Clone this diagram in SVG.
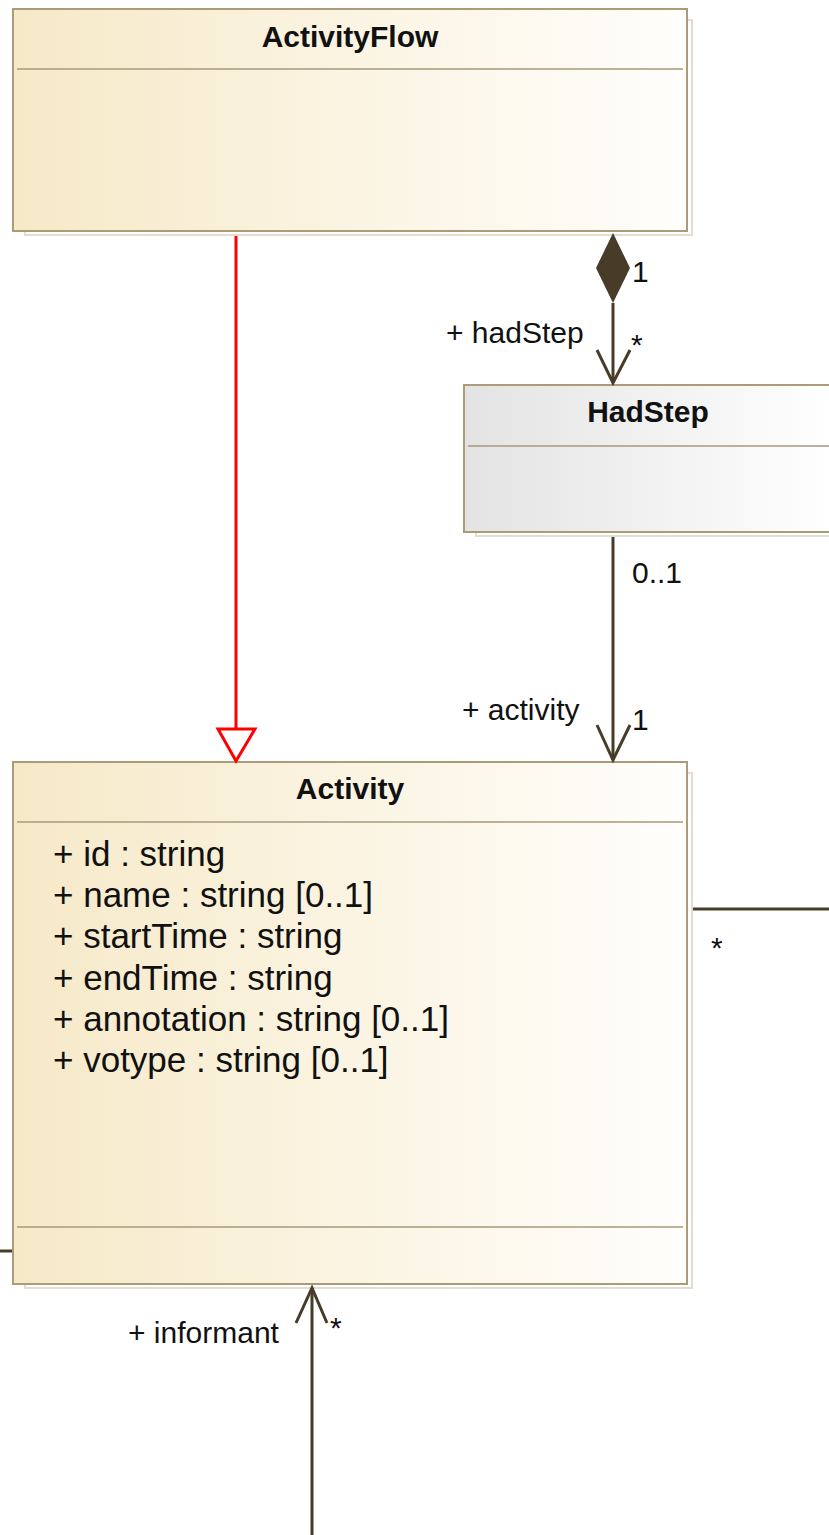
<svg xmlns="http://www.w3.org/2000/svg" width="829" height="1535" viewBox="0 0 829 1535">
<style>
.box{stroke:#ab9c78;stroke-width:2}
.shadow{fill:#ffffff;stroke:#e2ddd0;stroke-width:2}
.div{stroke:#a8997a;stroke-width:1.5}
.title{font-family:"Liberation Sans",Arial,sans-serif;font-size:30px;font-weight:bold;fill:#111;text-anchor:middle}
.attr{font-family:"Liberation Sans",Arial,sans-serif;font-size:35px;fill:#111}
.lbl{font-family:"Liberation Sans",Arial,sans-serif;font-size:30px;fill:#111}
.conn{stroke:#473c28;stroke-width:3;fill:none}
</style>
<defs>
<linearGradient id="cream" x1="0" y1="0" x2="1" y2="0">
<stop offset="0" stop-color="#f6e9c8"/>
<stop offset="0.5" stop-color="#fbf4e2"/>
<stop offset="1" stop-color="#fffefc"/>
</linearGradient>
<linearGradient id="gray" x1="0" y1="0" x2="1" y2="0">
<stop offset="0" stop-color="#e3e3e3"/>
<stop offset="1" stop-color="#ffffff"/>
</linearGradient>
</defs>

<g id="ActivityFlow">
<rect class="shadow" x="25" y="20" width="667" height="215"/>
<rect class="box" x="13" y="9" width="674" height="222" fill="url(#cream)"/>
<line class="div" x1="17" y1="69" x2="683" y2="69"/>
<text class="title" x="350" y="47">ActivityFlow</text>
</g>

<g id="HadStep">
<rect class="shadow" x="476" y="396" width="361" height="140"/>
<rect class="box" x="464" y="385" width="368" height="147" fill="url(#gray)"/>
<line class="div" x1="468" y1="446" x2="832" y2="446"/>
<text class="title" x="648" y="422">HadStep</text>
</g>

<g id="Activity">
<rect class="shadow" x="25" y="773" width="667" height="515"/>
<rect class="box" x="13" y="762" width="674" height="522" fill="url(#cream)"/>
<line class="div" x1="17" y1="822" x2="683" y2="822"/>
<line class="div" x1="17" y1="1227" x2="683" y2="1227"/>
<text class="title" x="350" y="799">Activity</text>
<text class="attr" x="53" y="866">+ id : string</text>
<text class="attr" x="53" y="907">+ name : string [0..1]</text>
<text class="attr" x="53" y="948">+ startTime : string</text>
<text class="attr" x="53" y="990">+ endTime : string</text>
<text class="attr" x="53" y="1031">+ annotation : string [0..1]</text>
<text class="attr" x="53" y="1072">+ votype : string [0..1]</text>
</g>

<g id="connectors">
<line x1="236" y1="236" x2="236" y2="729" stroke="#ff0000" stroke-width="3"/>
<polygon points="218,729 255,729 236,761" fill="#ffffff" stroke="#ff0000" stroke-width="3"/>

<polygon points="613,233 630,268 613,303 596,268" fill="#473c28"/>
<line class="conn" x1="613" y1="303" x2="613" y2="383"/>
<polyline class="conn" points="597,350 613,383 630,350"/>
<text class="lbl" x="632" y="282">1</text>
<text class="lbl" x="446" y="343">+ hadStep</text>
<text class="lbl" x="631" y="355">*</text>

<line class="conn" x1="613" y1="537" x2="613" y2="760"/>
<polyline class="conn" points="597,725 613,760 630,725"/>
<text class="lbl" x="632" y="583">0..1</text>
<text class="lbl" x="462" y="720">+ activity</text>
<text class="lbl" x="632" y="730">1</text>

<line class="conn" x1="693" y1="909" x2="829" y2="909"/>
<text class="lbl" x="711" y="958">*</text>

<line class="conn" x1="0" y1="1251" x2="12" y2="1251"/>

<line class="conn" x1="312" y1="1288" x2="312" y2="1535"/>
<polyline class="conn" points="296,1323 312,1288 327,1323"/>
<text class="lbl" x="128" y="1343">+ informant</text>
<text class="lbl" x="330" y="1338">*</text>
</g>
</svg>
